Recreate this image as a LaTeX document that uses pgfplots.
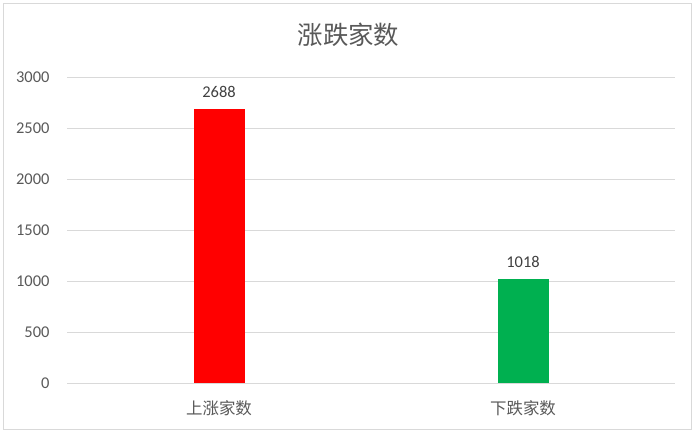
\documentclass[border=0pt]{standalone}
\usepackage{pgfplots}
\pgfplotsset{compat=1.18}
\usepackage{fontspec}
\setmainfont{Carlito}
\newfontfamily\cjk{Noto Sans CJK SC}
\definecolor{txt}{HTML}{595959}
\definecolor{lbl}{HTML}{404040}
\definecolor{grd}{HTML}{D9D9D9}
\definecolor{upred}{HTML}{FF0000}
\definecolor{dngreen}{HTML}{00B050}
\begin{document}
\begin{tikzpicture}
\path[use as bounding box] (0,0) rectangle (699bp,432bp);
\draw[grd, line width=0.8bp] (3bp,3bp) rectangle (691bp,429bp);
\node[txt, font=\cjk\fontsize{25.5}{29}\selectfont] at (348.5bp,397bp) {涨跌家数};
\begin{axis}[
    at={(67bp,49bp)}, anchor=south west,
    scale only axis, width=608bp, height=306bp,
    xmin=-0.5, xmax=1.5, ymin=0, ymax=3000,
    ytick={0,500,...,3000},
    xtick={0,1}, xticklabels={上涨家数,下跌家数},
    axis line style={draw=none},
    major tick length=0pt,
    ymajorgrids, grid style={grd, line width=0.8bp},
    /pgf/number format/assume math mode=true,
    /pgf/number format/1000 sep={},
    yticklabel style={font=\fontsize{16.5}{18}\selectfont, text=txt, anchor=east, xshift=-14bp},
    xticklabel style={font=\cjk\fontsize{16.5}{18}\selectfont, text=txt, anchor=center, yshift=-25bp},
    ybar, bar width=51bp,
    nodes near coords,
    nodes near coords style={font=\fontsize{16.5}{18}\selectfont, text=lbl, yshift=8bp},
]
\addplot[fill=upred, draw=none, bar shift=0pt] coordinates {(0,2688)};
\addplot[fill=dngreen, draw=none, bar shift=0pt] coordinates {(1,1018)};
\end{axis}
\end{tikzpicture}
\end{document}
